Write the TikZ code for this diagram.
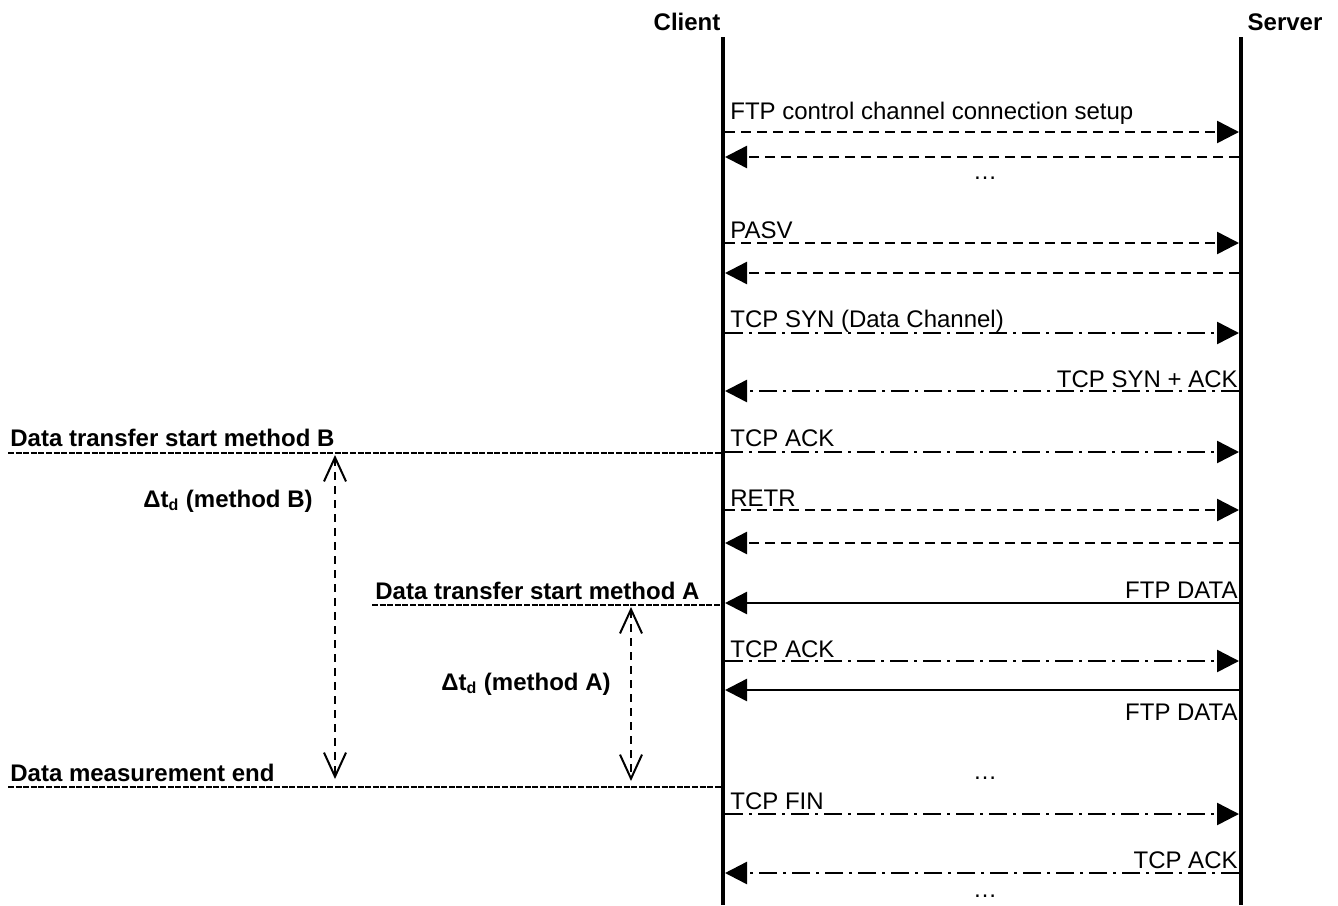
\documentclass[tikz,border=0pt]{standalone}
\usepackage{fontspec}
\setmainfont{Liberation Sans}
\usetikzlibrary{arrows.meta, positioning}
\tikzset{
  party/.style={font=\fontsize{12}{14}\selectfont\bfseries, anchor=base, inner sep=0pt},
  lifeline/.style={line width=2pt},
  msgtext/.style={font=\fontsize{12}{14}\selectfont, inner sep=0pt},
  marktext/.style={font=\fontsize{12}{14}\selectfont\bfseries, inner sep=0pt},
  ctrl/.style={line width=1.25pt, dash pattern=on 5pt off 3pt, -{Triangle[length=11pt, width=11pt]}},
  tcp/.style={line width=1.25pt, dash pattern=on 9pt off 3pt on 1.5pt off 3pt, -{Triangle[length=11pt, width=11pt]}},
  data/.style={line width=1.25pt, -{Triangle[length=11pt, width=11pt]}},
  marker/.style={line width=1.3pt, dash pattern=on 3pt off 0.8pt},
  delta/.style={line width=0.9pt, dash pattern=on 4pt off 3pt,
                {Straight Barb[length=12pt, width=11pt, line width=1pt]}-{Straight Barb[length=12pt, width=11pt, line width=1pt]}},
}
\begin{document}
\begin{tikzpicture}[x=0.5pt, y=-0.5pt]
        \useasboundingbox (0,0) rectangle (1338,905);

        % Lifelines
        \node[party] (client) at (687,30) {Client};
        \node[party] (server) at (1285,30) {Server};
        \coordinate (client-top) at (723,37);
        \coordinate (client-bot) at (723,905);
        \coordinate (server-top) at (1241,37);
        \coordinate (server-bot) at (1241,905);
        \draw[lifeline] (client-top) -- (client-bot);
        \draw[lifeline] (server-top) -- (server-bot);

        % Message end points on both lifelines
        \foreach \n/\y in {ftpa/132, ftpb/157, pasva/243, pasvb/273, syn/333, synack/391,
                           ack/452, retra/510, retrb/543, dataa/603, acka/661, datab/690,
                           fin/814, finack/873} {
          \coordinate (c-\n) at (725,\y);
          \coordinate (s-\n) at (1239,\y);
        }

        % FTP control channel
        \node[msgtext, anchor=base west] (l-ftp) at (730,119) {FTP control channel connection setup};
        \draw[ctrl] (c-ftpa) -- (s-ftpa);
        \draw[ctrl] (s-ftpb) -- (c-ftpb);
        \node[msgtext, anchor=base] (more1) at (985,179) {…};

        % PASV
        \node[msgtext, anchor=base west] (l-pasv) at (730,238) {PASV};
        \draw[ctrl] (c-pasva) -- (s-pasva);
        \draw[ctrl] (s-pasvb) -- (c-pasvb);

        % Data channel setup
        \node[msgtext, anchor=base west] (l-syn) at (730,327) {TCP SYN (Data Channel)};
        \draw[tcp] (c-syn) -- (s-syn);
        \node[msgtext, anchor=base east] (l-synack) at (1238,387) {TCP SYN + ACK};
        \draw[tcp] (s-synack) -- (c-synack);
        \node[msgtext, anchor=base west] (l-ack) at (730,446) {TCP ACK};
        \draw[tcp] (c-ack) -- (s-ack);

        % RETR and data
        \node[msgtext, anchor=base west] (l-retr) at (730,506) {RETR};
        \draw[ctrl] (c-retra) -- (s-retra);
        \draw[ctrl] (s-retrb) -- (c-retrb);
        \node[msgtext, anchor=base east] (l-dataa) at (1238,598) {FTP DATA};
        \draw[data] (s-dataa) -- (c-dataa);
        \node[msgtext, anchor=base west] (l-acka) at (730,657) {TCP ACK};
        \draw[tcp] (c-acka) -- (s-acka);
        \draw[data] (s-datab) -- (c-datab);
        \node[msgtext, anchor=base east] (l-datab) at (1238,720) {FTP DATA};
        \node[msgtext, anchor=base] (more2) at (985,779) {…};

        % Teardown
        \node[msgtext, anchor=base west] (l-fin) at (730,809) {TCP FIN};
        \draw[tcp] (c-fin) -- (s-fin);
        \node[msgtext, anchor=base east] (l-finack) at (1238,868) {TCP ACK};
        \draw[tcp] (s-finack) -- (c-finack);
        \node[msgtext, anchor=base] (more3) at (985,897) {…};

        % Measurement markers
        \node[marktext, anchor=base west] (t-startB) at (10,446) {Data transfer start method B};
        \coordinate (startB-l) at (8,453);
        \coordinate (startB-r) at (722,453);
        \draw[marker] (startB-l) -- (startB-r);
        \node[marktext, anchor=base west] (t-startA) at (375,599) {Data transfer start method A};
        \coordinate (startA-l) at (372,605);
        \coordinate (startA-r) at (722,605);
        \draw[marker] (startA-l) -- (startA-r);
        \node[marktext, anchor=base west] (t-end) at (10,781) {Data measurement end};
        \coordinate (end-l) at (8,787);
        \coordinate (end-r) at (722,787);
        \draw[marker] (end-l) -- (end-r);

        % Delta t
        \coordinate (dB-top) at (335,455);
        \coordinate (dB-bot) at (335,779);
        \draw[delta] (dB-top) -- (dB-bot);
        \node[marktext, anchor=base east] (l-dB) at (313,507) {Δt\textsubscript{d} (method B)};
        \coordinate (dA-top) at (631,607);
        \coordinate (dA-bot) at (631,781);
        \draw[delta] (dA-top) -- (dA-bot);
        \node[marktext, anchor=base east] (l-dA) at (611,690) {Δt\textsubscript{d} (method A)};
      \end{tikzpicture}
\end{document}
